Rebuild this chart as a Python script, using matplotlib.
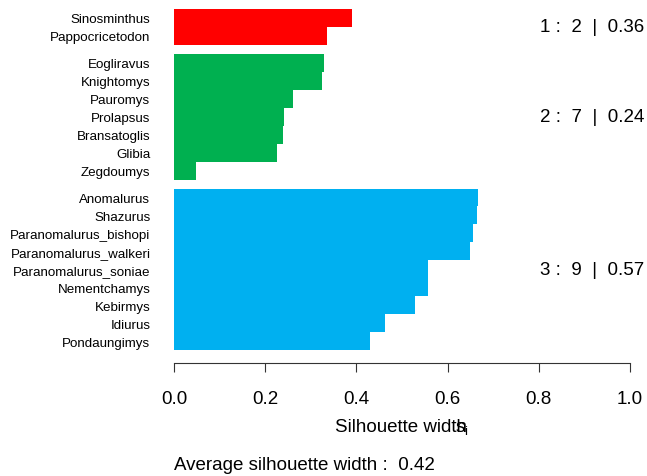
import numpy as np
import matplotlib
matplotlib.use("Agg")
import matplotlib.pyplot as plt

plt.rcParams['font.family'] = ['Liberation Sans', 'DejaVu Sans']
plt.rcParams['mathtext.fontset'] = 'custom'
plt.rcParams['mathtext.rm'] = 'Liberation Sans'

# silhouette widths per cluster, top to bottom
names = [
    "Sinosminthus", "Pappocricetodon",
    "Eogliravus", "Knightomys", "Pauromys", "Prolapsus", "Bransatoglis", "Glibia", "Zegdoumys",
    "Anomalurus", "Shazurus", "Paranomalurus_bishopi", "Paranomalurus_walkeri",
    "Paranomalurus_soniae", "Nementchamys", "Kebirmys", "Idiurus", "Pondaungimys",
]
widths = [
    0.390, 0.335,
    0.329, 0.325, 0.261, 0.241, 0.239, 0.226, 0.048,
    0.667, 0.664, 0.656, 0.649, 0.557, 0.557, 0.528, 0.463, 0.430,
]
cluster = [1, 1, 2, 2, 2, 2, 2, 2, 2, 3, 3, 3, 3, 3, 3, 3, 3, 3]
cluster_colors = {1: "#FF0000", 2: "#00B050", 3: "#00B0F0"}
cluster_avg = {1: "0.36", 2: "0.24", 3: "0.57"}
avg_width = "0.42"

# bar positions: height 1, gap 0.5 between clusters, top to bottom
pos = []
y = 0.0
prev = None
for c in cluster:
    if prev is not None and c != prev:
        y += 0.5
    pos.append(y + 0.5)
    y += 1
    prev = c
total = y
ypos = total - np.array(pos)

fig = plt.figure(figsize=(6.47, 4.77), dpi=100)
ax = fig.add_axes([174 / 647, (477 - 364) / 477, 456 / 647, (364 - 10) / 477])

ax.barh(ypos, widths, height=1.0, color=[cluster_colors[c] for c in cluster], linewidth=0)
ax.set_xlim(0, 1)
ax.set_ylim(-0.72, total)

ax.set_yticks(ypos)
ax.set_yticklabels(names, fontsize=9.6)
ax.tick_params(axis='y', length=0, pad=17)
ax.set_xticks(np.arange(0, 1.01, 0.2))
ax.set_xticklabels(["0.0", "0.2", "0.4", "0.6", "0.8", "1.0"], fontsize=13.5)
ax.tick_params(axis='x', length=6.5, width=0.8, pad=13, color="#333333")

for s in ["top", "right", "left"]:
    ax.spines[s].set_visible(False)
ax.spines["bottom"].set_linewidth(0.8)
ax.spines["bottom"].set_color("#333333")

# cluster summaries on the right
for c in sorted(set(cluster)):
    ys = [ypos[i] for i in range(len(cluster)) if cluster[i] == c]
    n = len(ys)
    ax.text(1.031, np.mean(ys), f"{c} :  {n}  |  {cluster_avg[c]}", ha="right", va="center",
            fontsize=13.5, clip_on=False)

fig.text(335 / 647, 1 - 432 / 477, "Silhouette width", fontsize=13.5, ha="left", va="baseline")
fig.text(455 / 647, 1 - 432 / 477, r"$\mathregular{s_i}$", fontsize=13.5, ha="left", va="baseline")
fig.text(174 / 647, 1 - 470 / 477, f"Average silhouette width :  {avg_width}", fontsize=13.5,
         ha="left", va="baseline")

fig.savefig("out.png", dpi=100)
